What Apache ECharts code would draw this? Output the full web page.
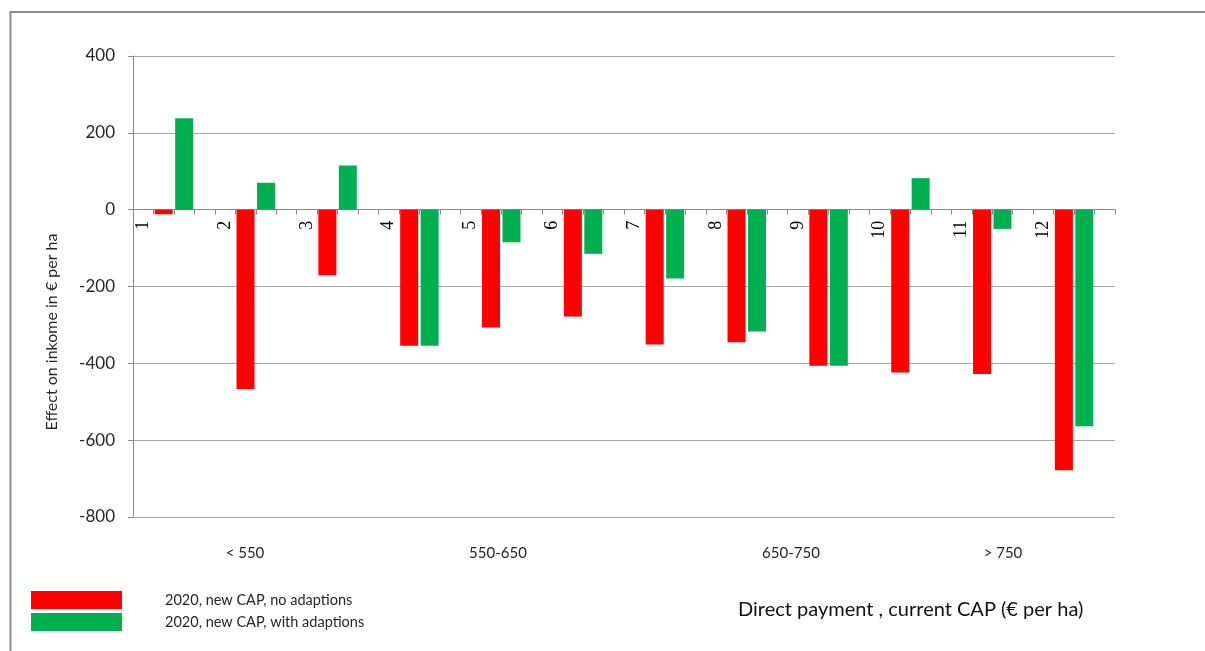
<!DOCTYPE html>
<html>
<head>
<meta charset="utf-8">
<script src="https://cdn.jsdelivr.net/npm/echarts@6/dist/echarts.min.js"></script>
<style>html,body{margin:0;padding:0;background:#fff;}#c{width:1205px;height:651px;}</style>
</head>
<body>
<div id="c"></div>
<script>
var categories = ['1','2','3','4','5','6','7','8','9','10','11','12'];
var noAdaptions = [-12, -467, -171, -354, -307, -278, -351, -345, -406, -424, -428, -678];
var withAdaptions = [238, 70, 115, -354, -85, -115, -179, -317, -406, 82, -50, -564];
var groupLabels = ['< 550', '550-650', '650-750', '> 750'];
var seriesNames = ['2020, new CAP, no adaptions', '2020, new CAP, with adaptions'];
var yTicks = { min: -800, max: 400, interval: 200 };

// each category occupies 4 slots: label, red bar, green bar, empty
var slots = [], redData = [], greenData = [];
categories.forEach(function (c, i) {
  slots.push(c, '', '', '');
  redData.push(null, noAdaptions[i], null, null);
  greenData.push(null, null, withAdaptions[i], null);
});

var gridTop = 56, gridBottom = 134, H = 651;
var plotH = H - gridTop - gridBottom;
// distance of the zero line above the bottom of the plot (through the value scale)
var zeroOffset = plotH * (0 - yTicks.min) / (yTicks.max - yTicks.min);

var chart = echarts.init(document.getElementById('c'));
var txt = '#262626';
chart.setOption({
  animation: false,
  grid: { left: 133, right: 90, top: gridTop, bottom: gridBottom },
  legend: {
    orient: 'vertical', left: 31, top: 591, padding: 0, itemWidth: 91, itemHeight: 18, itemGap: 4,
    icon: 'rect', selectedMode: false,
    textStyle: { fontFamily: 'Lato', fontSize: 14.5, color: txt, padding: [0, 0, 0, 38] },
    data: seriesNames
  },
  xAxis: {
    type: 'category', data: slots, position: 'bottom', offset: -zeroOffset,
    axisLine: { onZero: false, lineStyle: { color: '#8a8a8a', width: 1 } },
    axisTick: { show: true, interval: 0, length: 5, lineStyle: { color: '#8a8a8a' } },
    axisLabel: { interval: 0, rotate: 90, margin: 11, fontFamily: 'Liberation Serif', fontSize: 18, color: '#000' },
    splitLine: { show: false }
  },
  yAxis: {
    type: 'value', min: yTicks.min, max: yTicks.max, interval: yTicks.interval,
    axisLine: { show: true, lineStyle: { color: '#8a8a8a' } },
    axisTick: { show: true, length: 5, lineStyle: { color: '#8a8a8a' } },
    axisLabel: { margin: 18, fontFamily: 'Lato', fontSize: 17, color: txt },
    splitLine: { lineStyle: { color: '#a8a8a8', width: 1 } }
  },
  series: [
    { name: seriesNames[0], type: 'bar', data: redData, barWidth: 18, barGap: '-100%',
      itemStyle: { color: '#FF0000' } },
    { name: seriesNames[1], type: 'bar', data: greenData, barWidth: 18, barGap: '-100%',
      itemStyle: { color: '#00B050' } }
  ],
  graphic: [
    { type: 'rect', shape: { x: 10.5, y: 12, width: 1300, height: 800 }, silent: true,
      style: { fill: 'none', stroke: '#8c8c8c', lineWidth: 2 } },
    { type: 'text', x: 52, y: 332, rotation: Math.PI / 2,
      style: { text: 'Effect on inkome in € per ha', fontFamily: 'Lato', fontSize: 16, fill: txt, textAlign: 'center', textVerticalAlign: 'middle' } },
    { type: 'text', x: 245, y: 553, style: { text: groupLabels[0], fontFamily: 'Lato', fontSize: 15, fill: txt, textAlign: 'center', textVerticalAlign: 'middle' } },
    { type: 'text', x: 498, y: 553, style: { text: groupLabels[1], fontFamily: 'Lato', fontSize: 15, fill: txt, textAlign: 'center', textVerticalAlign: 'middle' } },
    { type: 'text', x: 791, y: 553, style: { text: groupLabels[2], fontFamily: 'Lato', fontSize: 15, fill: txt, textAlign: 'center', textVerticalAlign: 'middle' } },
    { type: 'text', x: 1003, y: 553, style: { text: groupLabels[3], fontFamily: 'Lato', fontSize: 15, fill: txt, textAlign: 'center', textVerticalAlign: 'middle' } },
    { type: 'text', x: 738, y: 610, style: { text: 'Direct payment , current CAP (€ per ha)', fontFamily: 'Lato', fontSize: 20, fill: '#111', textAlign: 'left', textVerticalAlign: 'middle' } }
  ]
});
</script>
</body>
</html>
